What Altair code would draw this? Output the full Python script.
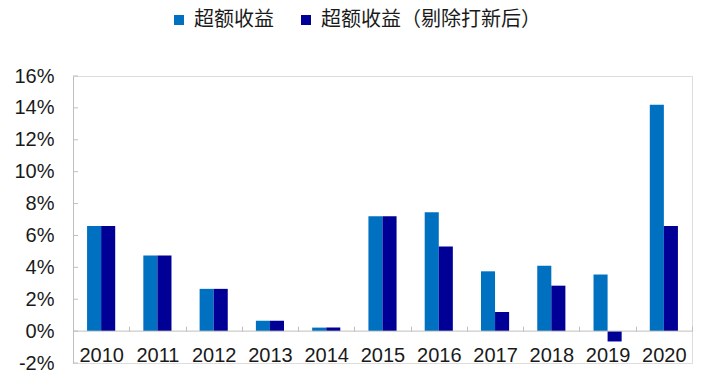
import altair as alt
import pandas as pd

years = ["2010", "2011", "2012", "2013", "2014", "2015", "2016", "2017", "2018", "2019", "2020"]
series_names = ["超额收益", "超额收益（剔除打新后）"]
excess = [6.6, 4.75, 2.65, 0.65, 0.22, 7.2, 7.45, 3.75, 4.1, 3.55, 14.2]
excess_ex_ipo = [6.6, 4.75, 2.65, 0.65, 0.22, 7.2, 5.3, 1.2, 2.85, -0.65, 6.6]
y_ticks = [-2, 0, 2, 4, 6, 8, 10, 12, 14, 16]
colors = ["#0070C0", "#000096"]

rows = []
for i, y in enumerate(years):
    rows.append({"year": y, "series": series_names[0], "value": excess[i]})
    rows.append({"year": y, "series": series_names[1], "value": excess_ex_ipo[i]})
df = pd.DataFrame(rows)

W, H = 619, 287
ydom = [-2, 16]
axis_gray = "#BFBFBF"
zero_px = H * (0 - ydom[0]) / (ydom[1] - ydom[0])  # distance from bottom to zero line

yscale = alt.Scale(domain=ydom, nice=False, zero=False)
y_axis = alt.Axis(values=y_ticks, grid=False, tickSize=0, domainColor=axis_gray,
                  labelOverlap=False, labelFlush=False,
                  labelFont="Liberation Sans", labelFontSize=20, labelColor="#1a1a1a",
                  labelPadding=19, labelExpr="datum.value + '%'", title=None)

bars = alt.Chart(df).mark_bar().encode(
    x=alt.X("year:N", sort=years, title=None,
            scale=alt.Scale(paddingInner=0, paddingOuter=0),
            axis=alt.Axis(orient="bottom", offset=-(zero_px + 5), domain=False,
                          tickBand="extent", tickSize=5, tickColor=axis_gray,
                          labelAngle=0, labelFont="Liberation Sans", labelFontSize=20,
                          labelColor="#1a1a1a", labelPadding=14)),
    xOffset=alt.XOffset("series:N", sort=series_names,
                        scale=alt.Scale(paddingInner=0, paddingOuter=1)),
    y=alt.Y("value:Q", scale=yscale, title=None, axis=y_axis),
    color=alt.Color("series:N", sort=series_names, title=None,
                    scale=alt.Scale(domain=series_names, range=colors),
                    legend=alt.Legend(orient="none", direction="horizontal",
                                      legendX=96, legendY=-66,
                                      symbolType="square", symbolSize=100,
                                      symbolStrokeWidth=0, labelOffset=5,
                                      columnPadding=22, labelLimit=0,
                                      labelFont="Noto Sans CJK SC", labelFontSize=20,
                                      labelColor="#1a1a1a")),
)

tick_df = pd.DataFrame({"t": y_ticks})
yticks = alt.Chart(tick_df).mark_rule(color=axis_gray, strokeWidth=1).encode(
    y=alt.Y("t:Q", scale=yscale, title=None, axis=y_axis),
    x=alt.value(0), x2=alt.value(5),
)

zero_line = alt.Chart(pd.DataFrame({"z": [0]})).mark_rule(color=axis_gray, strokeWidth=1).encode(
    y=alt.Y("z:Q", scale=yscale, title=None, axis=y_axis),
    x=alt.value(0), x2=alt.value(W),
)

chart = alt.layer(bars, zero_line, yticks).properties(
    width=W, height=H,
    autosize=alt.AutoSizeParams(type="none"),
    padding={"left": 73, "top": 76, "right": 19, "bottom": 15},
).configure_view(stroke=None).configure(background="white")

chart.save("out.html", embed_options={"renderer": "svg", "actions": False})
